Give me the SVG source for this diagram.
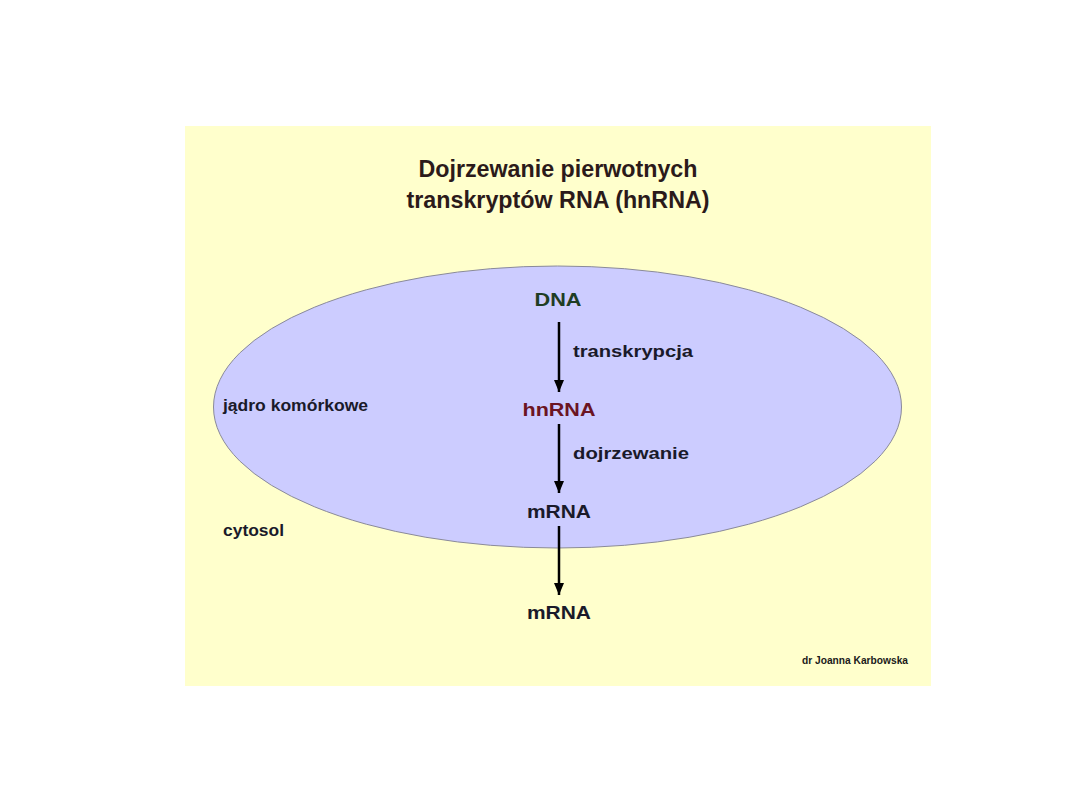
<svg xmlns="http://www.w3.org/2000/svg" width="1080" height="810" viewBox="0 0 1080 810">
<style>
text{font-family:"Liberation Sans",Arial,sans-serif;font-weight:bold;}
.t{font-size:24px;fill:#2b1a1a;text-anchor:middle}
.n{font-size:18px;fill:#1a1a2a;text-anchor:middle}
.l{font-size:16px;fill:#1a1a2a}
.c{stroke:#000;stroke-width:2.5;fill:none}
</style>
<defs>
<marker id="arr" markerWidth="12" markerHeight="10" refX="12" refY="5" orient="auto" markerUnits="userSpaceOnUse" viewBox="0 0 12 10">
<path d="M0,0 L12,5 L0,10 Z" fill="#000"/>
</marker>
</defs>
<rect width="1080" height="810" fill="#fff"/>
<rect id="bg" x="185" y="126" width="746" height="560" fill="#ffffcc"/>
<g id="title">
<text class="t" x="558" y="177" textLength="279" lengthAdjust="spacingAndGlyphs">Dojrzewanie pierwotnych</text>
<text class="t" x="558" y="208" textLength="303" lengthAdjust="spacingAndGlyphs">transkryptów RNA (hnRNA)</text>
</g>
<g id="nucleus">
<ellipse cx="557.5" cy="407" rx="344" ry="141" fill="#ccccff" stroke="#8a8a99" stroke-width="1"/>
<text class="l" x="223" y="411" font-size="15" textLength="145" lengthAdjust="spacingAndGlyphs">jądro komórkowe</text>
</g>
<g id="cytosol">
<text class="l" x="223" y="536" font-size="15" textLength="61" lengthAdjust="spacingAndGlyphs">cytosol</text>
</g>
<g id="dna"><text class="n" x="558" y="306" style="fill:#1f3d24" textLength="47" lengthAdjust="spacingAndGlyphs">DNA</text></g>
<g id="hnrna"><text class="n" x="559" y="416" style="fill:#6b1422" textLength="73" lengthAdjust="spacingAndGlyphs">hnRNA</text></g>
<g id="mrna1"><text class="n" x="559" y="518" textLength="64" lengthAdjust="spacingAndGlyphs">mRNA</text></g>
<g id="mrna2"><text class="n" x="559" y="619" textLength="64" lengthAdjust="spacingAndGlyphs">mRNA</text></g>
<g id="connectors">
<line class="c" x1="559" y1="322" x2="559" y2="392" marker-end="url(#arr)"/>
<line class="c" x1="559" y1="424" x2="559" y2="493" marker-end="url(#arr)"/>
<line class="c" x1="559" y1="526" x2="559" y2="595" marker-end="url(#arr)"/>
<text class="l" x="573" y="357" textLength="120" lengthAdjust="spacingAndGlyphs">transkrypcja</text>
<text class="l" x="573" y="459" textLength="116" lengthAdjust="spacingAndGlyphs">dojrzewanie</text>
</g>
<g id="author"><text x="802" y="664" font-size="10" fill="#1a1a1a" textLength="106" lengthAdjust="spacingAndGlyphs">dr Joanna Karbowska</text></g>
</svg>
